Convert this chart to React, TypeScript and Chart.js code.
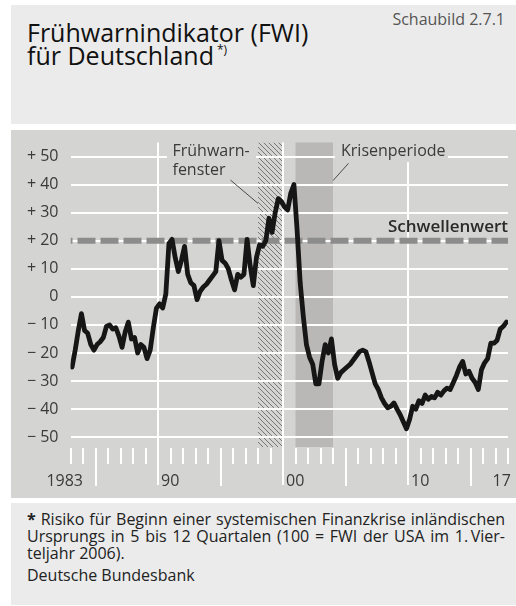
import React, { useEffect, useRef } from "react";
import { Chart, registerables } from "chart.js";

Chart.register(...registerables);

// ---------- data ----------
const START_YEAR = 1983;
const END_YEAR = 2018;

// Quarterly FWI values, 1983 Q1 – 2017 Q4
const fwiQuarterly: number[] = [
  -25, -19, -12, -6, // 1983
  -12, -13, -17, -19, // 1984
  -17, -16, -14.5, -10.5, // 1985
  -10, -11.5, -11, -14, // 1986
  -18, -12.5, -9, -15, // 1987
  -14.5, -20, -17, -18, // 1988
  -22, -19, -11, -4, // 1989
  -2.5, -4, 1, 19, // 1990
  20.5, 14, 9, 13, // 1991
  18, 8, 5, 4, // 1992
  -1, 2, 3.5, 4.5, // 1993
  6, 7.5, 9, 20, // 1994
  13, 12, 10, 6, // 1995
  2.5, 8, 7, 8, // 1996
  20.5, 11, 4, 14, // 1997
  18.5, 18, 20, 28, // 1998
  23, 30, 35, 34, // 1999
  32, 31, 37, 40, // 2000
  24, 5, -7, -17, // 2001
  -21.5, -24, -31, -31, // 2002
  -23, -17, -20, -15, // 2003
  -24, -29, -27, -26, // 2004
  -25, -24, -22.5, -21, // 2005
  -19.5, -19, -19.5, -23, // 2006
  -27, -31, -33, -36, // 2007
  -38, -39.5, -39, -37.8, // 2008
  -40, -42, -44.5, -47, // 2009
  -43.7, -39, -40, -37, // 2010
  -38, -35, -36.5, -35.5, // 2011
  -36, -34, -35, -33.5, // 2012
  -32.5, -33, -30.5, -28, // 2013
  -25, -23, -27.5, -26.5, // 2014
  -29, -30.5, -33, -26, // 2015
  -23.5, -22, -16.5, -16.5, // 2016
  -15.5, -11.5, -10.5, -9, // 2017
];

const yTickValues = [50, 40, 30, 20, 10, 0, -10, -20, -30, -40, -50];
const Y_MIN = -53.5;
const Y_MAX = 55;
const thresholdValue = 20;
const earlyWarningWindow = [1998, 2000];
const crisisPeriod = [2001, 2004];
const decadeLineYears = [1990, 2000, 2010];
const longTickYears = [1985, 1995, 2005, 2015];
const xTickLabels = [
  { year: 1983, label: "1983" },
  { year: 1990, label: "90" },
  { year: 2000, label: "00" },
  { year: 2010, label: "10" },
  { year: 2017, label: "17" },
];

// ---------- styling ----------
const FONT = "'Open Sans', 'Noto Sans', 'DejaVu Sans', sans-serif";
const PANEL_BG = "#d4d4d2";
const BOX_BG = "#ebebeb";
const TEXT = "#3a3a3a";

const fmtTick = (v: number) =>
  v > 0 ? "+ " + v : v < 0 ? "\u2212 " + Math.abs(v) : "0";

const decorPlugin = {
  id: "decor",
  beforeDraw(chart: any) {
    const { ctx, chartArea: ca, scales } = chart;
    const x = scales.x;
    ctx.save();
    // crisis period band
    const c0 = x.getPixelForValue(crisisPeriod[0]);
    const c1 = x.getPixelForValue(crisisPeriod[1]);
    ctx.fillStyle = "#b9b8b6";
    ctx.fillRect(c0, ca.top, c1 - c0, ca.bottom - ca.top);
    // early warning window hatch
    const h0 = x.getPixelForValue(earlyWarningWindow[0]);
    const h1 = x.getPixelForValue(earlyWarningWindow[1]);
    ctx.beginPath();
    ctx.rect(h0, ca.top, h1 - h0, ca.bottom - ca.top);
    ctx.clip();
    ctx.strokeStyle = "#777777";
    ctx.lineWidth = 1;
    const hgt = ca.bottom - ca.top;
    ctx.beginPath();
    for (let s = h0 - hgt; s < h1 + 5; s += 5) {
      ctx.moveTo(s, ca.top);
      ctx.lineTo(s + hgt, ca.bottom);
    }
    ctx.stroke();
    ctx.restore();
  },
  beforeDatasetsDraw(chart: any) {
    const { ctx, chartArea: ca, scales } = chart;
    const x = scales.x;
    const y = scales.y;
    ctx.save();
    // decade lines
    ctx.strokeStyle = "#ffffff";
    ctx.lineWidth = 2;
    ctx.beginPath();
    for (const yr of decadeLineYears) {
      const px = Math.round(x.getPixelForValue(yr));
      ctx.moveTo(px, ca.top);
      ctx.lineTo(px, ca.bottom + 38);
    }
    // year ticks
    for (let yr = START_YEAR; yr <= END_YEAR; yr++) {
      if (decadeLineYears.includes(yr)) continue;
      const px = Math.round(x.getPixelForValue(yr));
      const len = longTickYears.includes(yr) ? 38 : 16;
      ctx.moveTo(px, ca.bottom + 1);
      ctx.lineTo(px, ca.bottom + 1 + len);
    }
    ctx.stroke();

    // year labels
    ctx.fillStyle = TEXT;
    ctx.font = "16px " + FONT;
    ctx.textBaseline = "alphabetic";
    const base = ca.bottom + 39;
    for (const t of xTickLabels) {
      if (t.year === START_YEAR) {
        ctx.textAlign = "right";
        ctx.fillText(t.label, x.getPixelForValue(t.year + 1), base);
      } else if (t.year === END_YEAR - 1) {
        ctx.textAlign = "center";
        ctx.fillText(t.label, x.getPixelForValue(t.year + 0.5), base);
      } else {
        ctx.textAlign = "left";
        ctx.fillText(t.label, x.getPixelForValue(t.year) + 3, base);
      }
    }

    // label backgrounds (interrupt grid lines)
    const c1 = x.getPixelForValue(crisisPeriod[1]);
    const h0 = x.getPixelForValue(earlyWarningWindow[0]);
    const y50 = y.getPixelForValue(50);
    const y40 = y.getPixelForValue(40);
    ctx.fillStyle = PANEL_BG;
    ctx.fillRect(c1 + 2, ca.top - 1, 113, y50 + 6.5 - ca.top);
    ctx.fillRect(h0 - 91, ca.top - 1, 89, y40 - 5 - ca.top);

    // labels
    ctx.fillStyle = TEXT;
    ctx.textAlign = "left";
    ctx.font = "16px " + FONT;
    ctx.fillText("Krisenperiode", c1 + 8, y50 - 0.5);
    ctx.fillText("Frühwarn-", h0 - 85.5, y50 - 0.5);
    ctx.fillText("fenster", h0 - 85.5, y50 + 18.5);

    // leader lines
    ctx.strokeStyle = "#4a4a4a";
    ctx.lineWidth = 1;
    ctx.beginPath();
    ctx.moveTo(c1 + 15.5, y50 + 6.8);
    ctx.lineTo(c1, y40 - 4);
    ctx.moveTo(h0 - 27.5, y40 - 4.5);
    ctx.lineTo(h0, y.getPixelForValue(33.3));
    ctx.stroke();

    // threshold label
    ctx.fillStyle = "#2a2a2a";
    ctx.textAlign = "right";
    ctx.font = "600 17px " + FONT;
    ctx.fillText("Schwellenwert", ca.right, y.getPixelForValue(thresholdValue) - 9);
    ctx.restore();
  },
};

function FwiChart() {
  const ref = useRef<HTMLCanvasElement | null>(null);
  useEffect(() => {
    if (!ref.current) return;
    const chart = new Chart(ref.current, {
      type: "line",
      data: {
        datasets: [
          {
            label: "FWI",
            data: fwiQuarterly.map((v, i) => ({ x: START_YEAR + (i + 0.5) / 4, y: v })),
            borderColor: "#161616",
            borderWidth: 4.8,
            pointRadius: 0,
            tension: 0,
            borderJoinStyle: "round",
            borderCapStyle: "round",
          },
          {
            label: "Schwellenwert",
            data: [
              { x: START_YEAR, y: thresholdValue },
              { x: END_YEAR, y: thresholdValue },
            ],
            borderColor: "#8c8c8c",
            borderWidth: 6,
            borderDash: [18, 5],
            borderDashOffset: 16,
            pointRadius: 0,
          },
        ],
      } as any,
      options: {
        animation: false,
        responsive: true,
        maintainAspectRatio: false,
        devicePixelRatio: 1,
        layout: { padding: { top: 12.5, right: 8, bottom: 51, left: 0 } },
        plugins: { legend: { display: false }, tooltip: { enabled: false } },
        scales: {
          x: {
            type: "linear",
            display: false,
            min: START_YEAR,
            max: END_YEAR,
          },
          y: {
            type: "linear",
            min: Y_MIN,
            max: Y_MAX,
            afterFit: (s: any) => {
              s.width = 59.5;
              s.paddingTop = 0;
              s.paddingBottom = 0;
            },
            afterBuildTicks: (s: any) => {
              s.ticks = yTickValues.map((v) => ({ value: v }));
            },
            border: { display: false },
            grid: { color: "#ffffff", lineWidth: 2, drawTicks: false },
            ticks: {
              padding: 12,
              color: TEXT,
              font: { family: FONT, size: 16 },
              callback: (v: any) => fmtTick(Number(v)),
            },
          },
        },
      } as any,
      plugins: [decorPlugin],
    });
    return () => chart.destroy();
  }, []);
  return (
    <div style={{ position: "absolute", left: 11, top: 130, width: 505, height: 368 }}>
      <canvas ref={ref} />
    </div>
  );
}

export default function App() {
  return (
    <div
      style={{
        position: "absolute",
        left: 0,
        top: 0,
        width: 516,
        height: 606,
        background: "#ffffff",
        fontFamily: FONT,
        overflow: "hidden",
      }}
    >
      <div style={{ position: "absolute", left: 11, top: 5, width: 505, height: 119, background: BOX_BG }} />
      <div style={{ position: "absolute", left: 11, top: 130, width: 505, height: 368, background: PANEL_BG }} />
      <div style={{ position: "absolute", left: 11, top: 503, width: 505, height: 102, background: BOX_BG }} />

      <div style={{ position: "absolute", left: 27, top: 19.5, fontSize: 25, fontWeight: 500, lineHeight: "25px", color: "#111", whiteSpace: "nowrap" }}>
        Frühwarnindikator (FWI)
      </div>
      <div style={{ position: "absolute", left: 27, top: 42.8, fontSize: 25, fontWeight: 500, lineHeight: "25px", color: "#111", whiteSpace: "nowrap" }}>
        für Deutschland
        <span style={{ fontSize: 12, position: "relative", top: -11, marginLeft: 3 }}>*)</span>
      </div>
      <div style={{ position: "absolute", right: 11, top: 10.8, fontSize: 16, lineHeight: "16px", color: "#555", whiteSpace: "nowrap" }}>
        Schaubild 2.7.1
      </div>

      <FwiChart />

      <div style={{ position: "absolute", left: 27, top: 511.3, width: 478, fontSize: 16, lineHeight: "17px", color: "#222" }}>
        <div style={{ textAlign: "justify", textAlignLast: "justify", whiteSpace: "nowrap" as any }}>
          <b>*</b> Risiko für Beginn einer systemischen Finanzkrise inländischen
        </div>
        <div style={{ textAlign: "justify", textAlignLast: "justify" }}>
          Ursprungs in 5 bis 12 Quartalen (100 = FWI der USA im 1.{"\u2009"}Vier-
        </div>
        <div>teljahr 2006).</div>
        <div style={{ marginTop: 4.4 }}>Deutsche Bundesbank</div>
      </div>
    </div>
  );
}
